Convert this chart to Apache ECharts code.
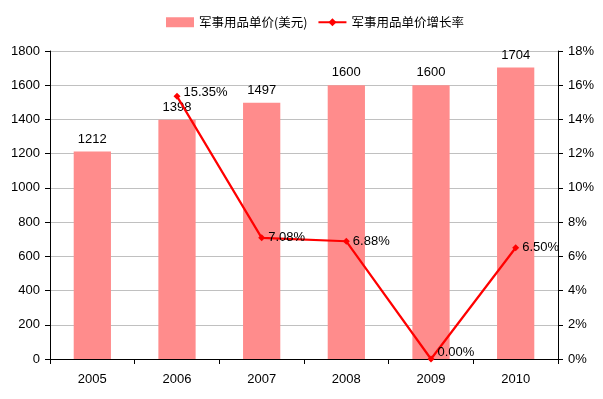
<!DOCTYPE html>
<html><head><meta charset="utf-8">
<script src="https://cdn.jsdelivr.net/npm/echarts@6/dist/echarts.min.js"></script>
<style>html,body{margin:0;padding:0;background:#fff}#c{width:603px;height:399px}</style>
</head><body><div id="c"></div>
<script>
const categories = ['2005','2006','2007','2008','2009','2010'];
const priceValues = [1212, 1398, 1497, 1600, 1600, 1704];
const growthValues = [null, 15.35, 7.08, 6.88, 0.00, 6.50];
const barName = '军事用品单价(美元)';
const lineName = '军事用品单价增长率';

const chart = echarts.init(document.getElementById('c'), null, {renderer:'canvas'});
const font = 'Arial, "Liberation Sans", sans-serif';
const lineData = growthValues.map(v => {
  if (v === 0) return {value: v, label: {offset: [0, -7]}};
  if (v > 15) return {value: v, label: {offset: [0, -4]}};
  return v;
});
chart.setOption({
  animation: false,
  backgroundColor: '#fff',
  textStyle: {fontFamily: font},
  legend: {
    top: 11, left: 161, itemGap: 10, itemWidth: 28, itemHeight: 10,
    textStyle: {fontFamily: '"Noto Sans CJK SC", sans-serif', fontSize: 12.5, color: '#000'},
    data: [{name: barName, icon: 'rect'}, {name: lineName}]
  },
  grid: {left: 50, right: 45, top: 51, bottom: 40, containLabel: false},
  xAxis: {
    type: 'category', data: categories, boundaryGap: true,
    axisLine: {lineStyle: {color: '#000', width: 1}},
    axisTick: {show: true, alignWithLabel: false, length: 5, inside: false, lineStyle: {color: '#000'}},
    axisLabel: {color: '#000', fontSize: 13, fontFamily: font, margin: 14}
  },
  yAxis: [{
    type: 'value', min: 0, max: 1800, interval: 200, position: 'left',
    axisLine: {show: true, lineStyle: {color: '#000'}},
    axisTick: {show: true, length: 5, lineStyle: {color: '#000'}},
    axisLabel: {color: '#000', fontSize: 13, fontFamily: font, margin: 10, formatter: v => String(v)},
    splitLine: {show: true, lineStyle: {color: '#c0c0c0', width: 1}}
  }, {
    type: 'value', min: 0, max: 18, interval: 2, position: 'right',
    axisLine: {show: true, lineStyle: {color: '#000'}},
    axisTick: {show: true, length: 5, lineStyle: {color: '#000'}},
    axisLabel: {color: '#000', fontSize: 13, fontFamily: font, margin: 10, formatter: '{value}%'},
    splitLine: {show: false}
  }],
  series: [{
    name: barName, type: 'bar', data: priceValues, barWidth: '44%',
    itemStyle: {color: '#FF8C8C'},
    label: {show: true, position: 'top', color: '#000', fontSize: 13, fontFamily: font, distance: 6}
  }, {
    name: lineName, type: 'line', yAxisIndex: 1, data: lineData,
    symbol: 'diamond', symbolSize: 7, connectNulls: false,
    lineStyle: {color: '#FF0000', width: 2.2},
    itemStyle: {color: '#FF0000'},
    label: {show: true, position: 'right', color: '#000', fontSize: 13, fontFamily: font, distance: 3,
      formatter: p => p.value == null ? '' : Number(p.value).toFixed(2) + '%'}
  }]
});
</script></body></html>
